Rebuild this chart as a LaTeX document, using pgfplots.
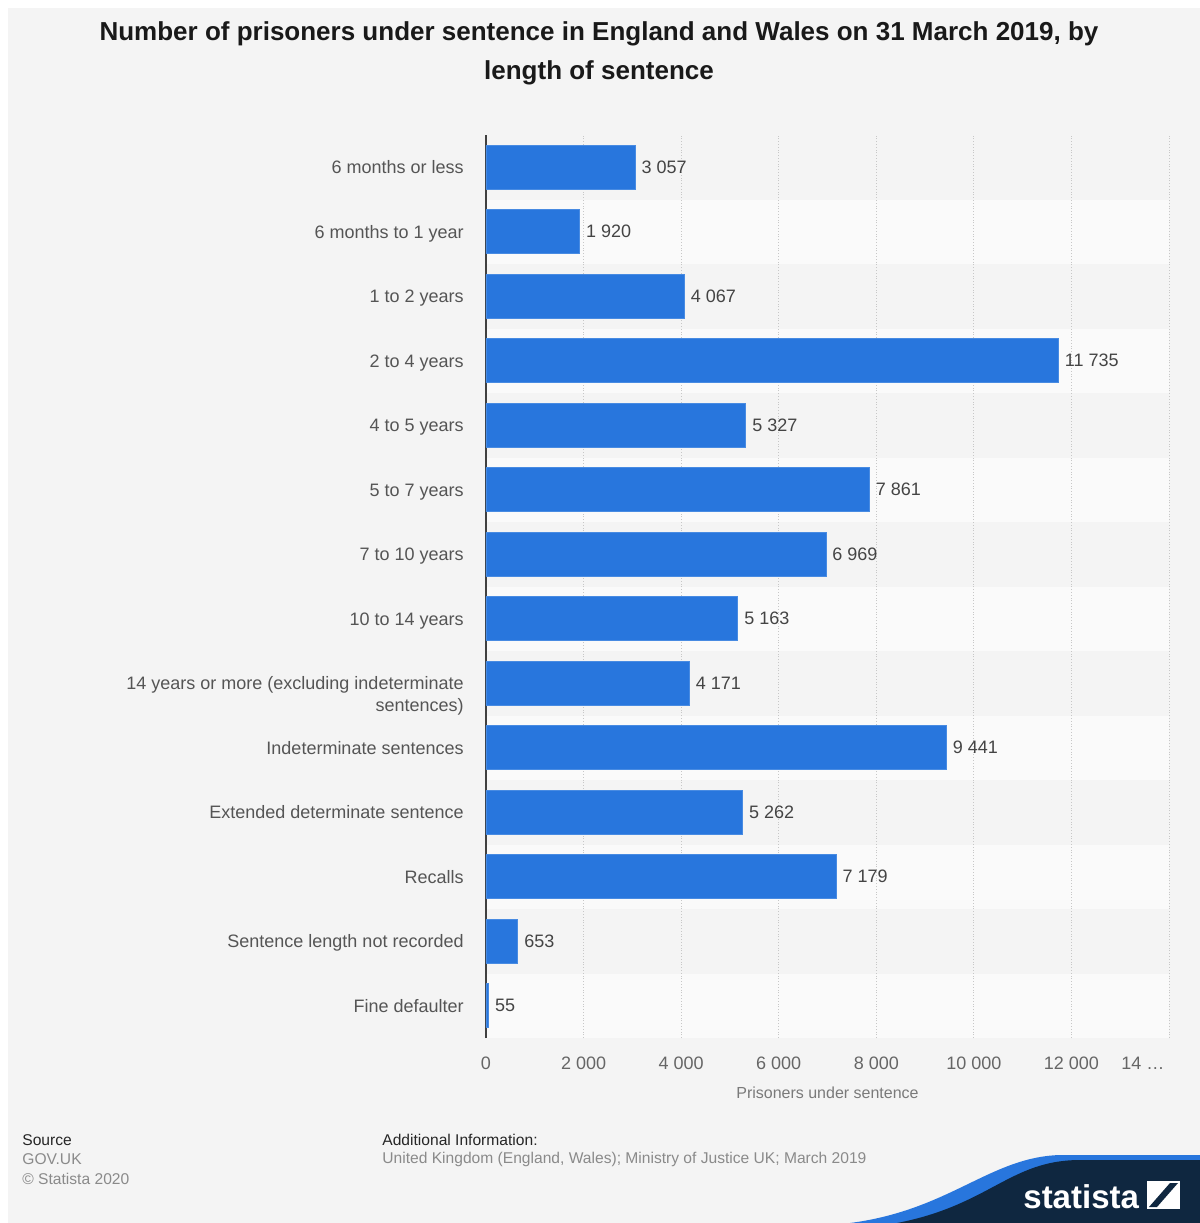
\documentclass[border=0pt]{standalone}
\usepackage{pgfplots}
\pgfplotsset{compat=1.18}
\usepackage{fontspec}
\setmainfont{Liberation Sans}
\definecolor{bg}{HTML}{F4F4F4}
\definecolor{stripe}{HTML}{FAFAFA}
\definecolor{barc}{HTML}{2876DD}
\definecolor{navy}{HTML}{0F2740}
\definecolor{catc}{HTML}{555555}
\definecolor{valc}{HTML}{444444}
\definecolor{tickc}{HTML}{666666}
\definecolor{labc}{HTML}{7A7A7A}
\definecolor{footg}{HTML}{8A8A8A}
\begin{document}
\begin{tikzpicture}
\begin{scope}[x=0.5pt,y=-0.5pt]
\useasboundingbox (0,0) rectangle (1200,1223);
\fill[white] (0,0) rectangle (1200,1223);
\fill[bg] (8,8) rectangle (1200,1223);
\foreach \i in {1,3,...,13} {
  \fill[stripe] (486,{135+64.5*\i}) rectangle (1169,{135+64.5*(\i+1)});
}
\node[font=\fontsize{13}{19.5}\selectfont\bfseries, align=center, text=black!90] at (599,53) {Number of prisoners under sentence in England and Wales on 31 March 2019, by\\length of sentence};
\end{scope}
\begin{axis}[
  at={(243pt,-519pt)}, anchor=south west,
  scale only axis, width=341.5pt, height=451.5pt,
  xbar, bar width=22pt,
  xmin=0, xmax=14000, ymin=-0.5, ymax=13.5,
  axis lines*=left,
  x axis line style={draw=none},
  y axis line style={draw=black!75, line width=1pt},
  major tick length=0pt,
  scaled x ticks=false,
  /pgf/number format/assume math mode=true,
  /pgf/number format/1000 sep={\ },
  xtick={0,2000,4000,6000,8000,10000,12000},
  xticklabels={0,2 000,4 000,6 000,8 000,10 000,12 000},
  extra x ticks={14000},
  extra x tick labels={14 \dots},
  extra x tick style={grid=major, xticklabel style={xshift=-13pt}},
  xmajorgrids,
  grid style={densely dotted, black!22, line width=0.5pt},
  xticklabel style={font=\fontsize{9}{11}\selectfont, text=tickc, anchor=center, yshift=-12.5pt},
  ytick={0,...,13},
  yticklabels={Fine defaulter, Sentence length not recorded, Recalls, Extended determinate sentence, Indeterminate sentences, {\begin{tabular}[t]{@{}r@{}}14 years or more (excluding indeterminate\\sentences)\end{tabular}}, 10 to 14 years, 7 to 10 years, 5 to 7 years, 4 to 5 years, 2 to 4 years, 1 to 2 years, 6 months to 1 year, 6 months or less},
  yticklabel style={font=\fontsize{9}{11}\selectfont, text=catc, anchor=base east, inner sep=0pt, xshift=-11pt, yshift=-3.3pt},
  xlabel={Prisoners under sentence},
  xlabel style={font=\fontsize{8}{10}\selectfont, text=labc, at={(axis description cs:0.5,0)}, anchor=center, yshift=-27.5pt},
  point meta=x,
  nodes near coords,
  every node near coord/.append style={font=\fontsize{9}{11}\selectfont, text=valc, anchor=west, inner sep=0pt, xshift=3pt},
]
\addplot[fill=barc, draw=barc!85!white, line width=0.4pt] coordinates {
(55,0) (653,1) (7179,2) (5262,3) (9441,4) (4171,5) (5163,6) (6969,7) (7861,8) (5327,9) (11735,10) (4067,11) (1920,12) (3057,13)
};
\end{axis}
\begin{scope}[x=0.5pt,y=-0.5pt]
\tikzset{foot/.style={anchor=west, inner sep=0pt, font=\fontsize{7.8}{9.4}\selectfont}}
\node[foot, text=black!85] at (22,1140) {Source};
\node[foot, text=footg] at (22,1159) {GOV.UK};
\node[foot, text=footg] at (22,1179) {© Statista 2020};
\node[foot, text=black!85] at (382,1140) {Additional Information:};
\node[foot, text=footg] at (382,1159) {United Kingdom (England, Wales); Ministry of Justice UK; March 2019};
\fill[barc] (850,1223) .. controls (950,1210) and (990,1157) .. (1060,1155) -- (1200,1155) -- (1200,1223) -- cycle;
\fill[navy] (897,1223) .. controls (990,1205) and (1010,1160) .. (1080,1160) -- (1200,1160) -- (1200,1223) -- cycle;
\node[text=white, font=\fontsize{16.5}{17}\selectfont\bfseries, anchor=base west, inner sep=0pt] at (1023,1208) {statista};
\fill[white] (1147,1181) rectangle (1180,1209);
\fill[navy] (1149,1207) -- (1157,1207) -- (1178,1183) -- (1170,1183) -- cycle;
\end{scope}
\end{tikzpicture}
\end{document}
